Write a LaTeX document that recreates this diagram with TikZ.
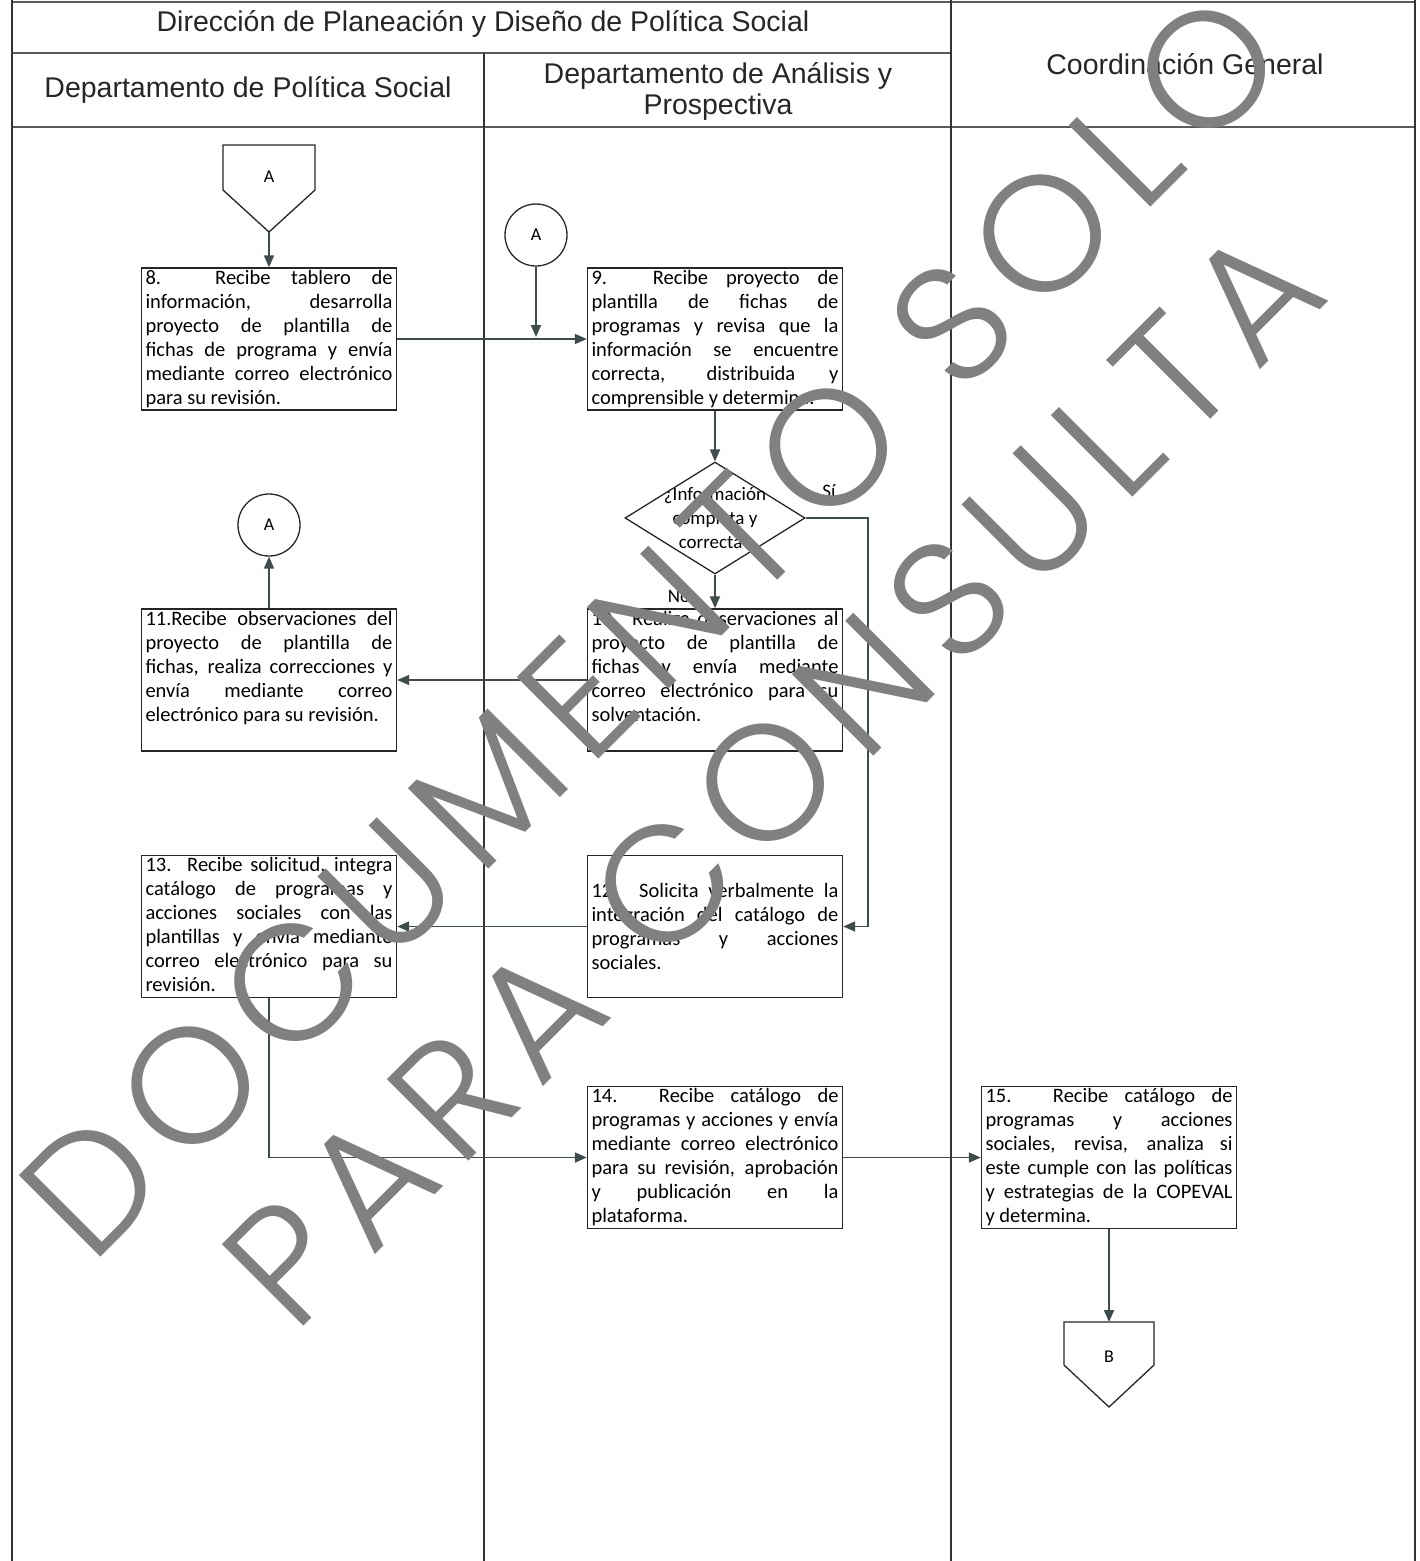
\documentclass[tikz,border=0pt]{standalone}
\usepackage{fontspec}
\usetikzlibrary{shapes.geometric,arrows.meta,calc}
\setmainfont{Carlito}
\newfontfamily\hdrfont{Liberation Sans}
\IfFontExistsTF{Poppins Light}{\newfontfamily\wmfont{Poppins Light}[LetterSpace=10]}{\newfontfamily\wmfont{Liberation Sans}[LetterSpace=10]}
\definecolor{arrowc}{HTML}{3E4C4C}
\definecolor{framec}{HTML}{5A5A5A}
\definecolor{wmc}{RGB}{128,128,128}
\newcommand\jl[1]{\makebox[\linewidth][s]{#1}\\}
\newcommand\btxt[2]{\parbox[c][138pt][#1]{247pt}{\fontsize{20.5}{24}\selectfont #2}}
\begin{document}
\begin{tikzpicture}[x=1pt,y=-1pt,
  frameline/.style={draw=framec, line width=1.6pt},
  vline/.style={draw=black!80, line width=1.3pt},
  hdr/.style={font=\hdrfont\fontsize{28.5}{31}\selectfont, inner sep=0pt, align=center, text=black!85},
  procbox/.style={draw=black!85, line width=1.4pt, inner xsep=4pt, inner ysep=2pt},
  conn/.style={circle, draw=black!85, line width=1.3pt, minimum size=62pt, inner sep=0pt, font=\fontsize{18}{20}\selectfont},
  lbl/.style={inner sep=0pt, font=\fontsize{18}{20}\selectfont},
  dec/.style={diamond, draw=black!85, line width=1.3pt, minimum width=180pt, minimum height=112pt, inner sep=0pt},
  arr/.style={draw=arrowc, line width=1.8pt, -{Triangle[length=12pt,width=10pt]}},
  pent/.style={draw=black!85, line width=1.3pt, line join=miter},
  wm/.style={rotate=45, inner sep=0pt, text=wmc, font=\wmfont\fontsize{165}{165}\selectfont}
]
\useasboundingbox (0,0) rectangle (1420,1561);
\fill[white] (0,0) rectangle (1420,1561);

% frame
\draw[frameline] (12,2) -- (1415,2);
\draw[frameline] (12,53) -- (951,53);
\draw[frameline] (12,127) -- (1415,127);
\draw[vline] (12,0) -- (12,1561);
\draw[vline] (484,53) -- (484,1561);
\draw[vline] (951,0) -- (951,1561);
\draw[vline] (1415,0) -- (1415,1561);

% headers
\node[hdr] (hdir) at (483,24) {Dirección de Planeación y Diseño de Política Social};
\node[hdr] (hdps) at (248,90) {Departamento de Política Social};
\node[hdr] (hdap) at (718,91) {Departamento de Análisis y\\Prospectiva};
\node[hdr] (hcg) at (1185,64) {Coordinación General};

% off-page connector A
\draw[pent] (223,145) -- (315,145) -- (315,190) -- (269,232) -- (223,190) -- cycle;
\node[lbl] (offA) at (269,177) {A};
\coordinate (offAtip) at (269,232);

% boxes
\node[procbox] (b8) at (269,339) {\btxt{t}{\jl{8. Recibe tablero de}\jl{información, desarrolla}\jl{proyecto de plantilla de}\jl{fichas de programa y envía}\jl{mediante correo electrónico}para su revisión.}};
\node[procbox] (b9) at (715,339) {\btxt{t}{\jl{9. Recibe proyecto de}\jl{plantilla de fichas de}\jl{programas y revisa que la}\jl{información se encuentre}\jl{correcta, distribuida y}comprensible y determina.}};
\node[procbox] (b10) at (715,680) {\btxt{t}{\jl{10. Realiza observaciones al}\jl{proyecto de plantilla de}\jl{fichas y envía mediante}\jl{correo electrónico para su}solventación.}};
\node[procbox] (b11) at (269,680) {\btxt{t}{\jl{11.Recibe observaciones del}\jl{proyecto de plantilla de}\jl{fichas, realiza correcciones y}\jl{envía mediante correo}electrónico para su revisión.}};
\node[procbox] (b12) at (715,926.5) {\btxt{c}{\jl{12. Solicita verbalmente la}\jl{integración del catálogo de}\jl{programas y acciones}sociales.}};
\node[procbox] (b13) at (269,926.5) {\btxt{t}{\jl{13. Recibe solicitud, integra}\jl{catálogo de programas y}\jl{acciones sociales con las}\jl{plantillas y envía mediante}\jl{correo electrónico para su}revisión.}};
\node[procbox] (b14) at (715,1157.5) {\btxt{t}{\jl{14. Recibe catálogo de}\jl{programas y acciones y envía}\jl{mediante correo electrónico}\jl{para su revisión, aprobación}\jl{y publicación en la}plataforma.}};
\node[procbox] (b15) at (1109,1157.5) {\btxt{t}{\jl{15. Recibe catálogo de}\jl{programas y acciones}\jl{sociales, revisa, analiza si}\jl{este cumple con las políticas}\jl{y estrategias de la COPEVAL}y determina.}};

% connectors A
\node[conn] (cA1) at (536,235) {A};
\coordinate (j1) at (536,337);
\node[conn] (cA2) at (269,525) {A};

% decision
\node[dec] (dia) at (715,518) {};
\node[inner sep=0pt, align=center, font=\fontsize{19}{24}\selectfont] (diaT) at (715,518) {¿Información\\completa y\\correcta?};
\node[lbl, font=\fontsize{19}{22}\selectfont] (si) at (829,491) {Sí};
\node[lbl, font=\fontsize{19}{22}\selectfont] (no) at (679,596) {No};
\coordinate (sy) at (868,926.5);

% off-page connector B
\draw[pent] (1064,1322) -- (1154,1322) -- (1154,1365) -- (1109,1407) -- (1064,1365) -- cycle;
\node[lbl] (offB) at (1109,1357) {B};
\coordinate (offBtop) at (1109,1322);

% arrows
\draw[arr] (offAtip) -- (b8.north);
\draw[arr] (b8.east) -- (b9.west);
\draw[arr] (cA1.south) -- (j1);
\draw[arr] (b9.south) -- (dia.north);
\draw[arr] (dia.south) -- (b10.north);
\draw[arr] (dia.east) -| (sy) -- (b12.east);
\draw[arr] (b10.west) -- (b11.east);
\draw[arr] (b11.north) -- (cA2.south);
\draw[arr] (b12.west) -- (b13.east);
\draw[arr] (b13.south) |- (b14.west);
\draw[arr] (b14.east) -- (b15.west);
\draw[arr] (b15.south) -- (offBtop);

% watermark
\node[wm, anchor=base west] (wm1) at (91,1267) {DOCUMENTO SOLO};
\node[wm, anchor=base west] (wm2) at (294,1336) {PARA CONSULTA};
\end{tikzpicture}
\end{document}
